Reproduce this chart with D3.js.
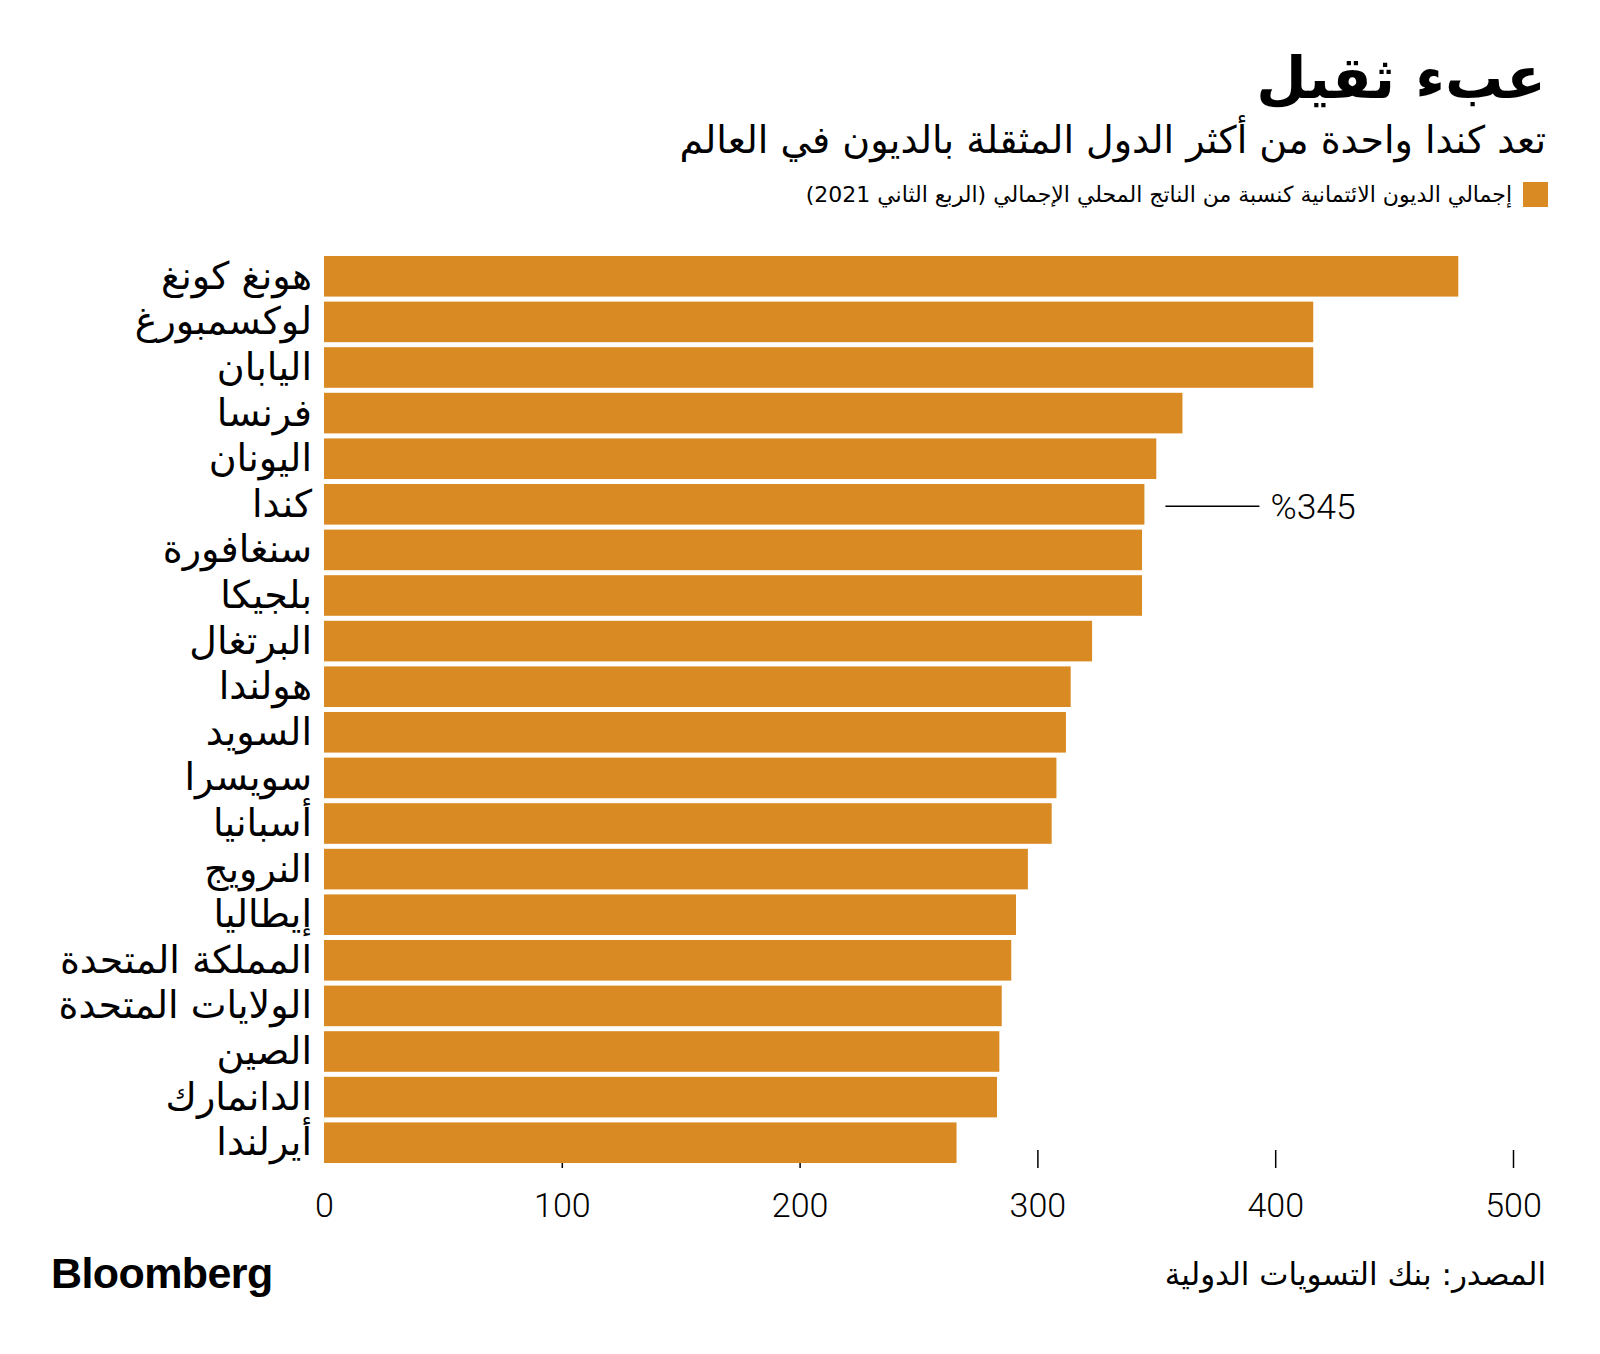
<!DOCTYPE html>
<html lang="ar">
<head>
<meta charset="utf-8">
<script src="https://cdn.jsdelivr.net/npm/d3@7"></script>
<style>
  html, body { margin: 0; padding: 0; background: #ffffff; }
  svg { display: block; }
</style>
</head>
<body>
<script>
const countries = [
  "هونغ كونغ", "لوكسمبورغ", "اليابان", "فرنسا", "اليونان", "كندا", "سنغافورة",
  "بلجيكا", "البرتغال", "هولندا", "السويد", "سويسرا", "أسبانيا", "النرويج",
  "إيطاليا", "المملكة المتحدة", "الولايات المتحدة", "الصين", "الدانمارك", "أيرلندا"
];
const debtRatio = [477, 416, 416, 361, 350, 345, 344, 344, 323, 314, 312, 308, 306, 296, 291, 289, 285, 284, 283, 266];
const xTicks = [0, 100, 200, 300, 400, 500];
const titleText = "عبء ثقيل";
const subtitleText = "تعد كندا واحدة من أكثر الدول المثقلة بالديون في العالم";
const legendText = "إجمالي الديون الائتمانية كنسبة من الناتج المحلي الإجمالي (الربع الثاني 2021)";
const annotationCountry = "كندا";
const annotationText = "%345";
const sourceText = "المصدر: بنك التسويات الدولية";
const brandText = "Bloomberg";

const W = 1600, H = 1354;
const barColor = "#da8a22";
const arabicFont = "'DejaVu Sans', 'Noto Sans', sans-serif";
const numFont = "Roboto, 'Liberation Sans', sans-serif";

const svg = d3.select("body").append("svg").attr("width", W).attr("height", H);

const x = d3.scaleLinear().domain([0, 500]).range([324, 1513]);
const y = d3.scaleBand().domain(countries).range([256, 1163]).paddingInner(0.11).paddingOuter(0);

// RTL helper: with direction rtl, text-anchor "start" is the right edge
function rtlText(sel) {
  return sel.attr("direction", "rtl").attr("text-anchor", "start");
}

// Title block
svg.append("text").attr("x", 1546).attr("y", 98)
  .call(rtlText)
  .style("font-family", arabicFont).style("font-weight", "bold").style("font-size", "58px")
  .attr("fill", "#000").text(titleText);

svg.append("text").attr("x", 1546).attr("y", 153)
  .call(rtlText)
  .style("font-family", arabicFont).style("font-size", "38px")
  .attr("fill", "#000").text(subtitleText);

// Legend
svg.append("rect").attr("x", 1523).attr("y", 182).attr("width", 25).attr("height", 25).attr("fill", barColor);
svg.append("text").attr("x", 1512).attr("y", 202)
  .call(rtlText)
  .style("font-family", arabicFont).style("font-size", "22px")
  .attr("fill", "#000").text(legendText);

// X axis ticks (drawn beneath bars)
const axis = d3.axisBottom(x).tickValues(xTicks).tickSize(18).tickPadding(25).tickFormat(d3.format("d"));
const gAxis = svg.append("g").attr("transform", "translate(0,1150)").call(axis);
gAxis.select(".domain").remove();
gAxis.selectAll(".tick line").attr("stroke", "#000").attr("stroke-width", 1.5)
  .attr("opacity", d => d === 0 ? 0 : 1);
gAxis.selectAll(".tick text")
  .style("font-family", numFont).style("font-weight", "300").style("font-size", "34px")
  .attr("fill", "#000");

// Bars
svg.append("g").selectAll("rect").data(countries).join("rect")
  .attr("x", x(0))
  .attr("y", d => y(d))
  .attr("width", (d, i) => x(debtRatio[i]) - x(0))
  .attr("height", y.bandwidth())
  .attr("fill", barColor);

// Category labels
svg.append("g").selectAll("text").data(countries).join("text")
  .attr("x", 312)
  .attr("y", d => y(d) + y.bandwidth() / 2)
  .attr("dy", "0.33em")
  .call(rtlText)
  .style("font-family", arabicFont).style("font-size", "38px")
  .attr("fill", "#000").text(d => d);

// Annotation for Canada
const ai = countries.indexOf(annotationCountry);
const ay = y(annotationCountry) + y.bandwidth() / 2 + 2;
const ax = x(debtRatio[ai]);
svg.append("line").attr("x1", ax + 21).attr("x2", ax + 115).attr("y1", ay).attr("y2", ay)
  .attr("stroke", "#000").attr("stroke-width", 1.5);
svg.append("text").attr("x", ax + 126).attr("y", ay).attr("dy", "0.35em")
  .style("font-family", numFont).style("font-weight", "300").style("font-size", "35.5px")
  .attr("fill", "#000").text(annotationText);

// Footer
svg.append("text").attr("x", 51).attr("y", 1288)
  .style("font-family", "'Liberation Sans', Arial, sans-serif").style("font-weight", "bold")
  .style("font-size", "43px").style("letter-spacing", "-0.6px")
  .attr("fill", "#000").text(brandText);

svg.append("text").attr("x", 1546).attr("y", 1285)
  .call(rtlText)
  .style("font-family", arabicFont).style("font-size", "31px")
  .attr("fill", "#000").text(sourceText);
</script>
</body>
</html>
